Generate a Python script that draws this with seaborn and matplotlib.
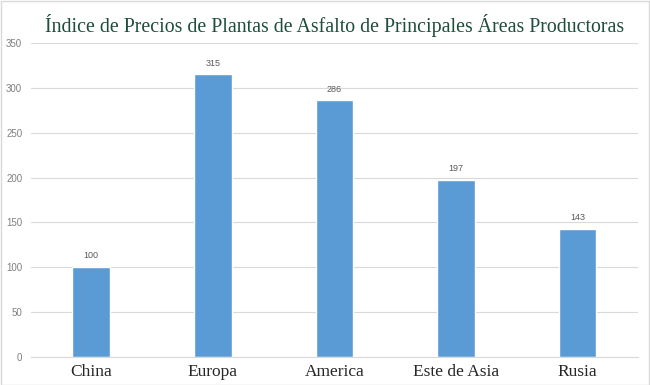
import matplotlib
matplotlib.use("Agg")
import matplotlib.pyplot as plt
import seaborn as sns
import pandas as pd

categories = ["China", "Europa", "America", "Este de Asia", "Rusia"]
values = [100, 315, 286, 197, 143]
yticks = [0, 50, 100, 150, 200, 250, 300, 350]
title = "Índice de Precios de Plantas de Asfalto de Principales Áreas Productoras"

sns.set_theme(style="white")
plt.rcParams['font.family'] = ['DejaVu Sans']

df = pd.DataFrame({"cat": categories, "val": values})

fig = plt.figure(figsize=(6.5, 3.85), dpi=100)
ax = fig.add_axes([0.047, 0.073, 0.935, 0.815])
sns.barplot(data=df, x="cat", y="val", color="#5b9bd5", saturation=1, width=0.31, ax=ax)

ax.set_ylim(0, 350)
ax.set_yticks(yticks)
ax.set_yticklabels([str(t) for t in yticks], fontsize=7, color="#7f7f7f", family="Liberation Sans")
ax.yaxis.grid(True, color="#d9d9d9", linewidth=0.8)
ax.set_axisbelow(True)
ax.tick_params(axis="y", length=0, pad=6)
ax.tick_params(axis="x", length=0, pad=5)
for lab in ax.get_xticklabels():
    lab.set_fontsize(12.5)
    lab.set_family("Liberation Serif")
    lab.set_color("#262626")
ax.set_xlabel("")
ax.set_ylabel("")
for s in ["left", "right", "top"]:
    ax.spines[s].set_visible(False)
ax.spines["bottom"].set_color("#d9d9d9")
ax.spines["bottom"].set_linewidth(0.8)
ax.set_xlim(-0.5, 4.5)

for c in ax.containers:
    ax.bar_label(c, labels=[str(v) for v in values], padding=5, fontsize=6.5,
                 color="#595959", family="Liberation Sans")

fig.text(0.515, 0.935, title, ha="center", va="center", fontsize=14.3,
         family="Liberation Serif", color="#1d4d3b")

fig.patches.append(plt.Rectangle((0.001, 0.001), 0.997, 0.997, transform=fig.transFigure,
                                 fill=False, edgecolor="#d9d9d9", linewidth=1))
fig.savefig("out.png", dpi=100)
